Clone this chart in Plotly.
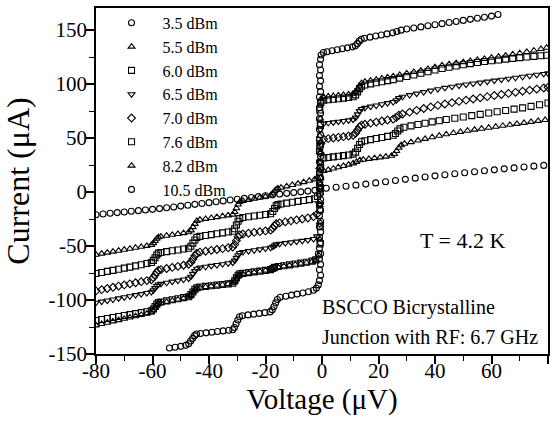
import plotly.graph_objects as go

# ---------------- data ----------------
series_names = ["3.5 dBm", "5.5 dBm", "6.0 dBm", "6.5 dBm", "7.0 dBm", "7.6 dBm", "8.2 dBm", "10.5 dBm"]
series_symbols = ["circle-open", "triangle-up-open", "square-open", "triangle-down-open",
                  "diamond-open", "square-open", "triangle-up-open", "circle-open"]

x_tick_vals = [-80, -60, -40, -20, 0, 20, 40, 60, 80]
x_tick_text = ["-80", "-60", "-40", "-20", "0", "20", "40", "60", "80"]
y_tick_vals = [-150, -100, -50, 0, 50, 100, 150]
y_tick_text = ["-150", "-100", "-50", "0", "50", "100", "150"]
x_minor_vals = [-70, -50, -30, -10, 10, 30, 50, 70]
y_minor_vals = [-125, -75, -25, 25, 75, 125]

# (voltage uV, current uA) pairs per series
pts_3_5 = [(-54,-144.5),(-52,-143.7),(-50,-142.9),(-48.2,-142),
 (-47.2,-140.5),(-46.5,-138),(-45.8,-135.5),(-45.1,-133),(-44.4,-131.5),
 (-43,-131),(-41,-130.4),(-39,-129.8),(-37,-129.2),(-35,-128.6),(-33,-128),(-31.6,-127.5),
 (-31,-125.5),(-30.4,-122),(-29.8,-118.5),(-29.2,-115.5),
 (-28.2,-114.5),(-26.2,-113.8),(-24.2,-113.1),(-22.2,-112.4),(-20.2,-111.7),(-18.4,-111),
 (-17.6,-109),(-17,-106),(-16.4,-102.5),(-15.8,-99.5),
 (-14.8,-97.5),(-12.8,-96.5),(-10.8,-95.5),(-8.8,-94.5),(-6.8,-93.5),(-4.8,-92.3),(-3,-91),
 (-2,-89),(-1.3,-86),
 (-0.9,-82),(-0.5,-77),(-0.9,-72),(-0.5,-67),(-0.9,-62),(-0.5,-57),(-0.9,-52),(-0.5,-47),
 (-0.9,-42),(-0.5,-37),(-0.9,-32),(-0.5,-27),(-0.9,-22),(-0.5,-17),(-0.9,-12),(-0.5,-7),
 (-0.9,-2),(-0.5,3),(-0.9,8),(-0.5,13),(-0.9,18),(-0.5,23),(-0.9,28),(-0.5,33),
 (-0.9,38),(-0.5,43),(-0.9,48),(-0.5,53),(-0.9,58),(-0.5,63),(-0.9,68),(-0.5,73),
 (-0.9,78),(-0.5,83),(-0.9,88),(-0.5,93),(-0.9,98),(-0.5,103),(-0.9,108),(-0.5,113),
 (-0.9,118),(-0.5,123),
 (-0.3,127),(0.5,129.3),
 (1.8,130),(3.6,130.9),(5.4,131.8),(7.2,132.7),(9,133.6),(10.8,134.5),
 (11.8,135.5),(12.5,137.5),(13.2,139.8),(13.9,141.6),
 (15,142.5),(17,143.5),(19,144.5),(21,145.5),(23,146.5),(25,147.5),
 (26.5,148.7),(28,150),(30,151),(32.5,152),(35,153),(37.5,154),(40,155),(42.5,156),
 (45,157),(47.5,158),(50,159),(52.5,160),(55,161),(57.5,162),(60,163),(62.3,164.5)]

pts_5_5 = [(-80,-58),(-78,-57),(-76,-56.1),(-74,-55.2),(-72,-54.3),(-70,-53.4),(-68,-52.5),(-66,-51.6),(-64,-50.7),(-62,-49.8),(-60.4,-49),
 (-59.7,-47.3),(-59.1,-45.3),(-58.5,-43.3),(-57.9,-41.8),
 (-57,-41.2),(-55,-40.4),(-53,-39.6),(-51,-38.8),(-49,-38),(-47.2,-37.2),
 (-46.4,-35.5),(-45.7,-32.5),(-45,-29.5),(-44.3,-26.8),
 (-43.2,-25.6),(-41.2,-24.8),(-39.2,-24),(-37.2,-23.2),(-35.2,-22.4),(-33.2,-21.6),(-31.6,-20.9),
 (-30.9,-18.5),(-30.3,-15),(-29.7,-11.5),(-29.1,-9.2),
 (-28,-8.2),(-26,-7.2),(-24,-6.2),(-22,-5.2),(-20,-4.2),(-18.2,-3.2),
 (-17.4,-1.2),(-16.8,0.8),(-16.2,2.4),(-15.6,3.4),
 (-14.5,4),(-12.5,5.3),(-10.5,6.6),(-8.5,7.9),(-6.5,9.2),(-4.5,10.5),(-2.6,11.8),
 (-1.6,13.5),(-0.8,20),(-0.6,36),(-0.8,52),(-0.6,68),(-0.8,80),(-0.4,86),
 (0.6,88),(2.2,88.5),(4,89),(5.8,89.5),(7.6,90),(9.4,90.5),(11,91.2),
 (11.9,92.8),(12.6,95.5),(13.3,98.5),(14,101),
 (15.2,102.2),(17.2,103.2),(19.2,104.2),(21.2,105.2),(23.2,106.2),(25.2,107.2),
 (27.5,108.5),(30,110),(32.5,111.2),(35,112.5),(37.5,114),(40,115.8),(42.5,117.3),(45,118.4),
 (47.5,119.4),(50,120.4),(52.5,121.4),(55,122.4),(57.5,123.4),(60,124.4),(62.5,125.4),(65,126.4),
 (67.5,127.5),(70,128.6),(72.5,129.8),(75,131.1),(77.5,132.5),(79.5,133.7)]

pts_6_0 = [(-80,-75.5),(-78,-74.5),(-76,-73.5),(-74,-72.5),(-72,-71.5),(-70,-70.5),(-68,-69.5),(-66,-68.4),(-64,-67.3),(-62,-66.2),(-60.4,-65.2),
 (-59.7,-63.3),(-59.1,-60.8),(-58.5,-58.3),(-57.9,-56.6),
 (-57,-56),(-55,-55.2),(-53,-54.4),(-51,-53.6),(-49,-52.8),(-47.2,-52),
 (-46.4,-50.2),(-45.7,-47.3),(-45,-44.4),(-44.3,-42),
 (-43.2,-41),(-41.2,-40.2),(-39.2,-39.4),(-37.2,-38.6),(-35.2,-37.8),(-33.2,-37),(-31.6,-36.3),
 (-30.9,-34),(-30.3,-30.5),(-29.7,-27),(-29.1,-24.6),
 (-28,-23.6),(-26,-22.9),(-24,-22.2),(-22,-21.5),(-20,-20.8),(-18.2,-20.1),
 (-17.4,-18),(-16.8,-15.2),(-16.2,-12.8),(-15.6,-11.6),
 (-14.5,-11),(-12.5,-10.2),(-10.5,-9.4),(-8.5,-8.6),(-6.5,-7.8),(-4.5,-7),(-2.6,-6.2),
 (-1.6,-4),(-0.8,4),(-0.6,22),(-0.8,42),(-0.6,62),(-0.8,76),(-0.4,83),
 (0.6,85),(2.2,85.5),(4,86),(5.8,86.5),(7.6,87),(9.4,87.6),(11,88.3),
 (11.9,90),(12.6,92.8),(13.3,95.8),(14,98),
 (15.2,99.2),(17.2,100.2),(19.2,101.2),(21.2,102.2),(23.2,103.2),(25.2,104.2),
 (27.5,105.5),(30,107),(32.5,108.5),(35,110),(37.5,111.5),(40,113),(42.5,114.4),(45,115.6),
 (47.5,116.8),(50,118),(52.5,119),(55,120),(57.5,120.9),(60,121.7),(62.5,122.4),(65,123.1),
 (67.5,123.8),(70,124.5),(72.5,125.1),(75,125.7),(77.5,126.3),(79.5,126.8)]

pts_6_5 = [(-80,-102.5),(-78,-101.5),(-76,-100.5),(-74,-99.5),(-72,-98.5),(-70,-97.5),(-68,-96.5),(-66,-95.5),(-64,-94.5),(-62,-93.5),(-60.4,-92.6),
 (-59.7,-91),(-59.1,-89),(-58.5,-87),(-57.9,-85.6),
 (-57,-85),(-55,-84),(-53,-83),(-51,-82),(-49,-81),(-47.2,-80.1),
 (-46.4,-78.4),(-45.7,-75.8),(-45,-73.2),(-44.3,-71),
 (-43.2,-70),(-41.2,-69.2),(-39.2,-68.4),(-37.2,-67.6),(-35.2,-66.8),(-33.2,-66),(-31.6,-65.3),
 (-30.9,-63.5),(-30.3,-61),(-29.7,-58.5),(-29.1,-56.5),
 (-28,-55.5),(-26,-54.7),(-24,-53.9),(-22,-53.1),(-20,-52.3),(-18.2,-51.6),
 (-17.4,-50.6),(-16.8,-49.5),(-16.2,-48.5),
 (-15,-48),(-13,-47.3),(-11,-46.6),(-9,-45.9),(-7,-45.2),(-5,-44.5),(-3,-43.5),
 (-1.8,-41),(-0.8,-30),(-0.6,-12),(-0.8,8),(-0.6,28),(-0.8,46),(-0.6,58),
 (0.6,63.5),(2.2,64),(4,64.6),(5.8,65.2),(7.6,65.8),(9.4,66.4),(11,67.1),
 (11.9,69),(12.6,72),(13.3,75),(14,77),
 (15.2,78),(17.2,79.1),(19.2,80.2),(21.2,81.3),(23.2,82.4),(25.2,83.4),
 (26.3,85),(27.2,87),
 (28.5,88.3),(31,89.8),(33.5,91.2),(36,92.6),(38.5,94),(41,95.3),(43.5,96.5),(46,97.6),
 (48.5,98.6),(51,99.6),(53.5,100.5),(56,101.4),(58.5,102.3),(61,103.2),(63.5,104.1),(66,105),
 (68.5,105.9),(71,106.8),(73.5,107.7),(76,108.6),(78.5,109.4),(80,109.9)]

pts_7_0 = [(-80,-91.5),(-78,-90.4),(-76,-89.3),(-74,-88.2),(-72,-87.1),(-70,-86),(-68,-85),(-66,-84),(-64,-83),(-62,-82),(-60.4,-81.2),
 (-59.7,-79.3),(-59.1,-76.8),(-58.5,-74.3),(-57.9,-72.5),
 (-57,-71.8),(-55,-70.8),(-53,-69.8),(-51,-68.8),(-49,-67.8),(-47.2,-66.9),
 (-46.4,-65),(-45.7,-62),(-45,-59),(-44.3,-56.6),
 (-43.2,-55.6),(-41.2,-54.8),(-39.2,-54),(-37.2,-53.2),(-35.2,-52.4),(-33.2,-51.6),(-31.6,-50.9),
 (-30.9,-48.5),(-30.3,-45),(-29.7,-41.5),(-29.1,-39.6),
 (-28,-38.8),(-26,-38.1),(-24,-37.4),(-22,-36.7),(-20,-36),(-18.2,-35.3),
 (-17.4,-33.5),(-16.8,-31.2),(-16.2,-29.3),
 (-15,-28.5),(-13,-27.6),(-11,-26.7),(-9,-25.8),(-7,-24.9),(-5,-24),(-3,-22.8),
 (-1.8,-20.5),(-0.8,-10),(-0.6,6),(-0.8,22),(-0.6,36),(-0.4,45),
 (0.6,49),(2.2,49.5),(4,50.1),(5.8,50.7),(7.6,51.3),(9.4,51.9),(11,52.6),
 (11.9,54.5),(12.6,57.5),(13.3,60.3),(14,62),
 (15.2,62.8),(17.2,63.8),(19.2,64.8),(21.2,65.8),(23.2,66.8),(25.2,67.6),
 (26.3,69.2),(27.2,71.2),
 (28.5,72.3),(31,74),(33.5,75.7),(36,77.4),(38.5,78.9),(41,80.3),(43.5,81.6),(46,82.8),
 (48.5,84),(51,85.1),(53.5,86.2),(56,87.3),(58.5,88.4),(61,89.4),(63.5,90.4),(66,91.4),
 (68.5,92.4),(71,93.4),(73.5,94.4),(76,95.4),(78.5,96.4),(80,97)]

pts_7_6 = [(-80,-119),(-78,-118),(-76,-117.1),(-74,-116.2),(-72,-115.3),(-70,-114.4),(-68,-113.5),(-66,-112.6),(-64,-111.7),(-62,-110.8),(-60.4,-110),
 (-59.7,-108.3),(-59.1,-106),(-58.5,-103.8),(-57.9,-102.3),
 (-57,-101.8),(-55,-100.8),(-53,-99.8),(-51,-98.8),(-49,-97.8),(-47.2,-96.9),
 (-46.4,-95),(-45.7,-92.5),(-45,-90),(-44.3,-88.6),
 (-43.2,-88),(-41.2,-87.4),(-39.2,-86.8),(-37.2,-86.2),(-35.2,-85.6),(-33.2,-85),(-31.6,-84.4),
 (-30.9,-82.3),(-30.3,-79.5),(-29.7,-77),(-29.1,-75.8),
 (-28,-75.3),(-26,-74.6),(-24,-73.9),(-22,-73.2),(-20,-72.5),(-18.2,-71.8),
 (-17.4,-70.8),(-16.8,-69.8),
 (-15.5,-69),(-13.5,-68.2),(-11.5,-67.4),(-9.5,-66.6),(-7.5,-65.8),(-5.5,-65),(-3.5,-64),(-2.2,-62.8),
 (-1.2,-58),(-0.7,-48),(-0.6,-32),(-0.8,-16),(-0.6,0),(-0.8,14),(-0.5,26),
 (0.6,31.5),(2.2,32),(4,32.6),(5.8,33.2),(7.6,33.8),(9.4,34.4),(11,35.1),
 (11.9,37),(12.6,40.5),(13.3,44),(14,46.6),
 (15.2,47.6),(17.2,48.6),(19.2,49.6),(21.2,50.6),(23.2,51.6),(25.2,52.6),
 (26,54.3),(26.8,56.5),(27.6,58.5),
 (29,60),(31.5,61.3),(34,62.6),(36.5,63.8),(39,65),(41.5,66.1),(44,67.2),(47,68.4),
 (50,69.6),(53,70.8),(56,72),(59,73.2),(62,74.4),(65,75.6),(68,76.8),(71,78),
 (74,79.4),(77,80.9),(80,82.5)]

pts_8_2 = [(-80,-123.5),(-78,-122.2),(-76,-121),(-74,-119.8),(-72,-118.6),(-70,-117.4),(-68,-116.2),(-66,-115),(-64,-113.8),(-62,-112.6),(-60.4,-111.6),
 (-59.7,-109.5),(-59.1,-107),(-58.5,-104.7),(-57.9,-103.2),
 (-57,-102.8),(-55,-101.7),(-53,-100.6),(-51,-99.5),(-49,-98.4),(-47.2,-97.4),
 (-46.4,-95.4),(-45.7,-92.8),(-45,-90.3),(-44.3,-89),
 (-43.2,-88.6),(-41.2,-87.9),(-39.2,-87.2),(-37.2,-86.5),(-35.2,-85.8),(-33.2,-85.1),(-31.6,-84.5),
 (-30.9,-82.5),(-30.3,-80),(-29.7,-77.5),(-29.1,-76.5),
 (-28,-76),(-26,-75.2),(-24,-74.4),(-22,-73.6),(-20,-72.8),(-18.2,-72.1),
 (-17.4,-71.2),(-16.8,-70.3),
 (-15.5,-69.5),(-13.5,-68.7),(-11.5,-67.9),(-9.5,-67.1),(-7.5,-66.3),(-5.5,-65.5),(-3.5,-64.5),(-2.2,-63.3),
 (-1.2,-58.5),(-0.7,-44),(-0.6,-28),(-0.8,-12),(-0.6,4),(-0.5,13),
 (0.6,19.5),(2.2,20.6),(4,21.8),(5.8,23),(7.6,24.2),(9.4,25.4),(11,26.6),
 (12.2,28),(13.4,29.5),
 (14.6,30),(16.6,30.7),(18.6,31.4),(20.6,32.1),(22.6,32.8),(24.6,33.6),
 (25.6,35.2),(26.4,38),(27.2,41),(28,43.4),
 (29.2,44.8),(31.5,46.3),(34,47.8),(36.5,49.3),(39,50.8),(41.5,52.2),(44,53.5),(46.5,54.7),
 (49,55.8),(51.5,56.8),(54,57.8),(56.5,58.7),(59,59.6),(61.5,60.5),(64,61.4),(66.5,62.3),
 (69,63.2),(71.5,64.1),(74,65),(76.5,65.9),(79,66.8)]

pts_10_5 = [(-80,-21),(-77.5,-20.3),(-75,-19.6),(-72.5,-19),(-70,-18.4),(-67.5,-17.8),(-65,-17.2),(-62.5,-16.6),
 (-60,-16),(-57.5,-15.3),(-55,-14.5),(-52.5,-13.8),(-50,-13),(-47.5,-12.2),(-45,-11.4),(-42.5,-10.6),
 (-40,-9.8),(-37.5,-9),(-35,-8.2),(-32.5,-7.4),(-30,-6.6),(-27.5,-5.8),(-25,-5),(-22.5,-4.2),
 (-20,-3.4),(-17.5,-2.6),(-15,-1.9),(-12.5,-1.2),(-10,-0.5),(-7.5,0.2),(-5,0.9),(-2.5,1.6),(-0.8,2.6),
 (1.5,3.6),(5,4.5),(8.5,5.4),(12,6.4),(15.5,7.4),(19,8.5),(22.5,9.6),(26,10.7),(29.5,11.8),
 (33,12.9),(36.5,14),(40,15),(43.5,16),(47,17),(50.5,17.9),(54,18.8),(57.5,19.7),(61,20.6),
 (64.5,21.5),(68,22.4),(71.5,23.2),(75,24),(78.5,24.7)]

series_points = [pts_3_5, pts_5_5, pts_6_0, pts_6_5, pts_7_0, pts_7_6, pts_8_2, pts_10_5]

FONT = "'Liberation Serif', 'Times New Roman', Times, serif"

fig = go.Figure()
for name, sym, pts in zip(series_names, series_symbols, series_points):
    v = [p[0] for p in pts]
    i = [p[1] for p in pts]
    fig.add_trace(go.Scatter(
        x=v, y=i, mode="markers", name=name,
        marker=dict(symbol=sym, size=6, color="black", line=dict(width=1.1, color="black")),
    ))

fig.update_layout(
    width=558, height=429,
    margin=dict(l=96, r=10, t=6, b=75),
    paper_bgcolor="white", plot_bgcolor="white",
    font=dict(family=FONT, color="black"),
    showlegend=True,
    legend=dict(x=0.010, y=1.006, xanchor="left", yanchor="top",
                bgcolor="rgba(0,0,0,0)", borderwidth=0,
                font=dict(family=FONT, size=16, color="black"),
                tracegroupgap=0, itemwidth=52),
    xaxis=dict(range=[-80, 80], tickmode="array", tickvals=x_tick_vals, ticktext=x_tick_text,
               ticks="outside", ticklen=8, tickwidth=1.5, tickcolor="black",
               ticklabelstandoff=-11,
               showline=True, linewidth=1.5, linecolor="black", mirror=True,
               showgrid=False, zeroline=False,
               tickfont=dict(family=FONT, size=21, color="black"),
               minor=dict(tickmode="array", tickvals=x_minor_vals, ticks="outside",
                          ticklen=5, tickwidth=1.2, tickcolor="black", showgrid=False),
               title=dict(text="Voltage (μV)", font=dict(family=FONT, size=29, color="black"),
                          standoff=3)),
    yaxis=dict(range=[-150, 170.5], tickmode="array", tickvals=y_tick_vals, ticktext=y_tick_text,
               ticks="outside", ticklen=8, tickwidth=1.5, tickcolor="black",
               ticklabelstandoff=-5,
               showline=True, linewidth=1.5, linecolor="black", mirror=True,
               showgrid=False, zeroline=False,
               tickfont=dict(family=FONT, size=21, color="black"),
               minor=dict(tickmode="array", tickvals=y_minor_vals, ticks="outside",
                          ticklen=5, tickwidth=1.2, tickcolor="black", showgrid=False),
               title=dict(text="Current (μA)", font=dict(family=FONT, size=32, color="black"),
                          standoff=9)),
    annotations=[
        dict(text="T = 4.2 K", xref="paper", yref="paper", x=0.810, y=0.3276,
             xanchor="center", yanchor="middle", showarrow=False,
             font=dict(family=FONT, size=22, color="black")),
        dict(text="BSCCO Bicrystalline", xref="paper", yref="paper", x=0.4956, y=0.135,
             xanchor="left", yanchor="middle", showarrow=False,
             font=dict(family=FONT, size=20, color="black")),
        dict(text="Junction with RF: 6.7 GHz", xref="paper", yref="paper", x=0.4956, y=0.0489,
             xanchor="left", yanchor="middle", showarrow=False,
             font=dict(family=FONT, size=20, color="black")),
    ],
)

fig.write_html("out.html")
